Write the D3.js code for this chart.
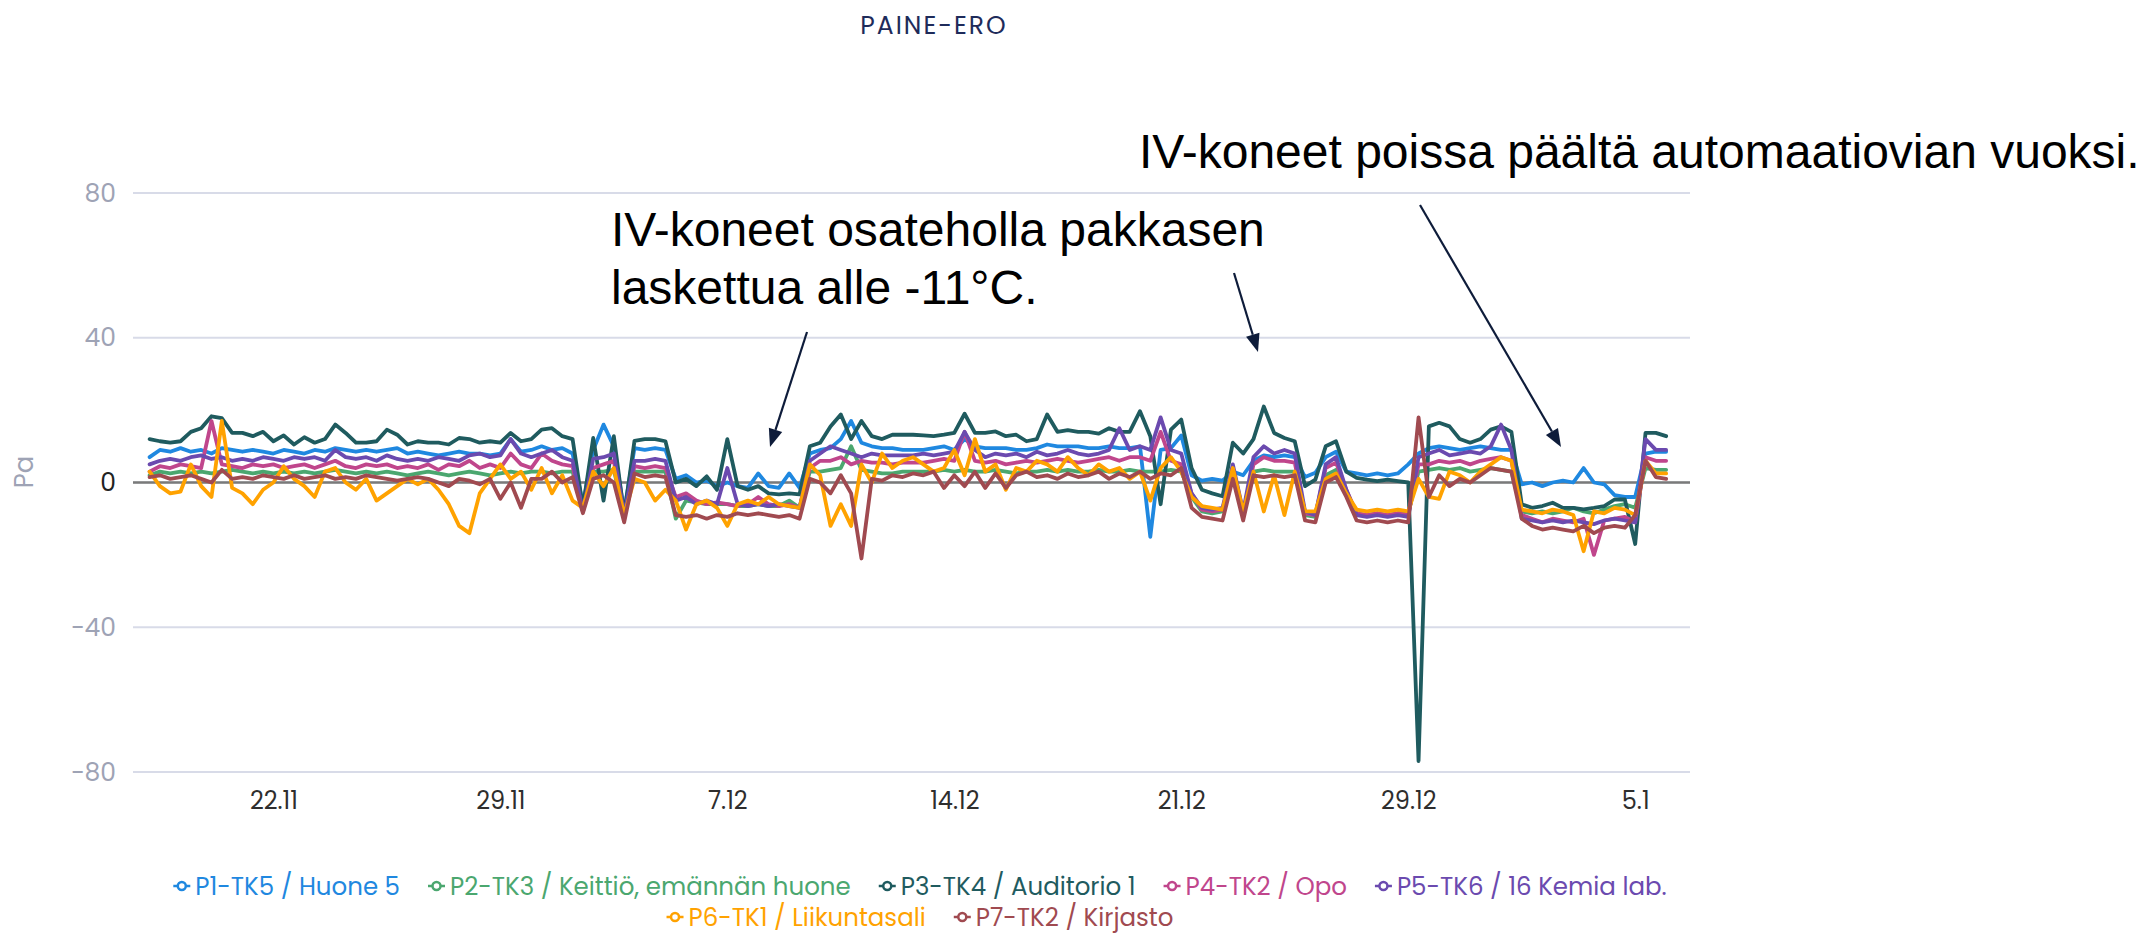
<!DOCTYPE html>
<html><head><meta charset="utf-8">
<script src="https://cdn.jsdelivr.net/npm/d3@7"></script>
<style>
body{margin:0;background:#fff;}
svg{display:block;}
</style></head><body>
<svg id="chart" width="2144" height="937"></svg>
<script>
// ---------------- data ----------------
const seriesNames = ["P1-TK5 / Huone 5","P2-TK3 / Keittiö, emännän huone","P3-TK4 / Auditorio 1","P4-TK2 / Opo","P5-TK6 / 16 Kemia lab.","P6-TK1 / Liikuntasali","P7-TK2 / Kirjasto"];
const seriesColors = ["#1f88e0","#4ba76f","#1f5b5f","#c0468c","#6b4aaf","#ffa200","#a04a50"];
const startTime = "2021-11-18T12:00:00";
const stepHours = 8;
const tickDates = ["2021-11-22T12:00:00","2021-11-29T20:00:00","2021-12-07T04:00:00","2021-12-14T12:00:00","2021-12-21T20:00:00","2021-12-29T04:00:00","2022-01-05T12:00:00"];
const tickLabels = ["22.11","29.11","7.12","14.12","21.12","29.12","5.1"];
const yTicks = [-80,-40,0,40,80];
const yDomain = [-80,80];
const xDomain = ["2021-11-17T23:08:00","2022-01-07T06:30:00"];

const p1 = [7,9,8.5,9.5,8.5, 9,8,9.5,9,8.5, 9,8.5,8,9,8.5, 8,9,8.5,9.5,9, 8.5,9,8.5,9,9.5, 8,8.5,8,7.5,8, 8.5,8,8,7.5,8, 12,8.5,9,
 10,9,9.5,8,-6, 9,16,10,-8,9.5, 9,9.5,9,1,2, 0,0.5,-1,0,-1, -1.5,2.5,-1,-1.5,2.5, -1.5,8,9,9.5,12, 17,11,10,9.5,9.5, 9,9,9,
 9.5,10,9,12,10, 9.5,9.5,9.5,9,9, 9.5,10.5,10,10,10, 9.5,9.5,10,9.5,9.5, 10,-15,9,9.5,13, 2,0.5,1,0.5,3, 2,6,7.5,7,7.5, 7,1.5,2.7,
 7,8.5,3,2.5,2, 2.5,2,2.5,5,8, 9.5,10,9.5,9,9.5, 10,9.5,9,9,-0.5, 0,-1,0,0.5,0, 4,0,-0.5,-3.5,-4, -4,8,8.5,8.5];
const p2 = [2,3,2.5,3,2.5, 3,2.5,3,3.5,3, 2.5,3,2.5,3,2.5, 3,2.5,3,3.5,3, 2.5,3,2.5,3,2.5, 2,2.5,3,2.5,2, 2.5,3,2.5,2,2.5, 3,2.5,3,
 3,2.5,3,3,-8, 3,3,3.5,-9,3, 3,3,3,-10,-5, -5.5,-6,-6,-6,-6.5, -6.5,-6,-6.5,-6.5,-5, -7,3,3,3.5,4, 10,3.5,3,2.5,2.5, 3,3,3,
 3,3.5,3,3.5,3, 3,3.5,3,2.5,3, 3,3.5,3,3.5,3, 3,3.5,3,3,3.5, 3,3,3,3.5,3, -4,-8,-8.5,-8,3, -9,3,3.5,3,3, 3,-9,-9.5,
 2,3.5,-3,-8.5,-9, -8.5,-9,-8.5,-8.5,3, 3.5,4,3.5,4,3, 3.5,4,3.5,3,-8, -8.5,-8,-8.5,-8,-7, -8,-8.5,-7.5,-6.5,-6, -7,4,3.5,3.5];
const p3 = [12,11.4,11,11.4,14, 15,18.3,17.8,13.7,13.7, 12.8,14,11.4,13,10.5, 12.5,11,12,16,13.7, 11,11,11.4,14.6,13.2, 10.5,11.4,11,11,10.5, 12.3,12,11,11.4,11, 13.7,11.4,12,
 14.6,15,12.8,12,-7, 12.3,-5,12.8,-9,11.5, 12,12,11.4,0,1, -1,1.7,-2,12,-1, -2,-1,-3,-3.3,-3, -3.3,10,11,15.5,18.8, 12,17,12.8,12,13.2, 13.2,13.2,13,
 12.8,13.2,13.7,19,13.7, 13.7,14.1,12.8,13.2,11.4, 12,18.8,14,14.5,14, 14,13.5,15,14,14, 19.7,12.8,-6,14.6,17.4, 4,-2,-3,-3.8,11, 8,12,21,13.7,12.3, 11.4,-1,0.8,
 10,11.4,3,1.3,0.8, 0.4,0.8,0.4,0,-77, 15.5,16.5,15.5,12,11, 12,14.6,15.5,14,-6, -7,-6.5,-5.6,-7,-7, -7.4,-7,-6.5,-4.7,-4.7, -17,13.7,13.7,12.8];
const p4 = [3,4.5,4,5,4.5, 4,17,5,4.5,4, 5,4.5,5,4,4.5, 5,4,5,6,4.5, 4,5,4.5,5,4, 4.5,4,5,3.5,5, 4.5,6,4,5,4, 8,5,4,
 8,6,5,4.5,-8, 4,5,6,-9,4.5, 4,4.5,4,-4,-3, -5,-6,-5.5,-6,-6.5, -6,-4,-6,-6.5,-6, -7,4,6,6,7, 5,6,5.5,5.5,5, 5.5,5.5,5.5,
 6,6.5,6,14,6, 5.5,6,5,5.5,6, 5.5,6,6.5,6,5.5, 6,6.5,7,6,7, 7,6,14,6,5, -3,-7.5,-8,-7.5,4, -8.5,5,7,6,6, 5.5,-8.5,-9,
 4,5.5,-2,-8.5,-9, -8.5,-9,-8.5,-9,5, 5,6,5.5,6,5, 6,6.5,7,6,-9, -10,-11,-10,-10.5,-11, -10,-20,-10.5,-10,-9.5, -11,7,6,6];
const p5 = [5,6,6.5,6,7, 7.5,6.5,7,6,6.5, 6,7,6.5,6,7, 6.5,7,6,9,7, 6.5,7,6,7.5,6.5, 6,6.5,6,7,6.5, 6,7.5,8,7,7.5, 12,8,7,
 8,9,7,6,-8, 6.5,7,8,-9,6, 6,6.5,6,-5,-4, -6,-5,-6,4,-6, -6.5,-6,-6.5,-6,-6.5, -7,6,8,10,9, 8,7,8,7.5,7.5, 7.5,7.5,8,
 7.5,8,8.5,14,9, 7,8,7.5,8,7, 8.5,7.5,8,9,8, 7.5,8,9,15,9, 10,9,18,9,8, -3,-7,-7.5,-7,5, -8,7,10,8,9, 8,-8,-9,
 5,7,-2,-9,-9.5, -9,-9.5,-9,-9.5,7, 8,9,7.5,8,8.5, 8,10,16,9,-10, -10.5,-11,-10.5,-11,-10.5, -11,-11.5,-10.5,-10,-10.5, -11,12,9,9];
const p6 = [3,-1,-3,-2.5,5, -1,-4,17,-1.5,-3, -6,-2,0,4.5,1, -1,-4,3,4,0, -2,1,-5,-3,-1, 1,-0.5,1,-2,-6, -12,-14,-3,1,5, 1,3,-2,
 4,-3,2,-5,-7, 3,-1,4,-9,1, 0,-5,-2,-5,-13, -6,-5,-7,-12,-6, -5,-6,-4,-6,-6.5, -7,5,2,-12,-6, -12,5,0,8,4, 6,7,5,
 3,4,9,2,12, 3,5,-2,4,3, 6,5,3,7,4, 2,5,3,4,1, 3,-5,4,7,3, -4,-6.5,-7,-7.5,4, -8,3,-8,2,-9, 3,-8,-8,
 1,2.5,-3,-7.5,-8, -7.5,-8,-7.5,-8,1, -4,-4.5,3,2,0, 3,5,7,6,-7.5, -8,-8.5,-7.5,-8,-9, -19,-8,-8.5,-7,-7.5, -9,6,2.5,2.5];
const p7 = [1.5,2,1,1.5,2, 1,0,3.5,1,1.5, 1,2,1.5,1,2, 1,1.5,2,1,1.5, 1,2,1.5,1,0.5, 1,1.5,1,0,-1, 1,0.5,-0.5,1,-4.5, 0,-7,1,
 1,3,0,1.5,-8.5, 1,2,0,-11,2.5, 1.5,2,1.5,-9,-9.5, -9,-10,-9,-9.5,-8.5, -9,-8.5,-9,-9.5,-9, -10,1,0,-3,2, -3,-21,1,0.5,2, 1.5,2.5,2,
 3,-1.5,2,-1,3, -1.5,2.5,-1.5,2,3, 1.5,2,1,2.5,1.5, 2,3,1,2.5,1.5, 3,1,2.5,2,4, -7,-9.5,-10,-10.5,1, -10.5,2,1.5,2,1.5, 2,-10.5,-11,
 0,1.5,-4,-10.5,-11, -10.5,-11,-10.5,-11,18, -4,2,-1,1,0, 2,4,3.5,3,-10, -12,-13,-12.5,-13,-13.5, -12,-14,-12.5,-12,-12.5, -9,6,1.5,1];
const seriesValues = [p1,p2,p3,p4,p5,p6,p7];
const legendRows = [[0,1,2,3,4],[5,6]];

// annotations (text + arrows, in pixels)
const annotations = [
  {lines:["IV-koneet poissa päältä automaatiovian vuoksi."], x:1139, y:168},
  {lines:["IV-koneet osateholla pakkasen","laskettua alle -11°C."], x:611, y:246}
];
const arrows = [
  {from:[807,332], to:[770,447]},
  {from:[1234,273], to:[1258,352]},
  {from:[1420,205], to:[1561,447]}
];

// ---------------- chart ----------------
const svg = d3.select("#chart");
const L = 133, R = 1690, T = 193, B = 772;
const FONT = "Poppins, 'Open Sans', sans-serif";
const parse = d3.isoParse;
const t0 = parse(startTime).getTime();
const x = d3.scaleTime().domain(xDomain.map(parse)).range([L, R]);
const y = d3.scaleLinear().domain(yDomain).range([B, T]);

// title
svg.append("text").attr("x", 934).attr("y", 25).attr("dy", "0.35em")
  .attr("text-anchor", "middle").attr("font-family", FONT)
  .attr("font-size", 25).attr("letter-spacing", 2).attr("fill", "#1e2b5a").text("PAINE-ERO");

// gridlines
svg.append("g").selectAll("line").data(yTicks).join("line")
  .attr("x1", L).attr("x2", R).attr("y1", d => y(d)).attr("y2", d => y(d))
  .attr("stroke", "#d8dbe8").attr("stroke-width", 2);
svg.append("line").attr("x1", L).attr("x2", R).attr("y1", y(0)).attr("y2", y(0))
  .attr("stroke", "#7a7a7a").attr("stroke-width", 2.5);

// y axis
const yAxis = svg.append("g").attr("transform", `translate(${L},0)`)
  .call(d3.axisLeft(y).tickValues(yTicks).tickSize(0).tickPadding(17));
yAxis.select(".domain").remove();
yAxis.selectAll("text").attr("font-family", FONT).attr("font-size", 25)
  .attr("fill", d => d === 0 ? "#222" : "#9ea3b5");

// x axis
const xAxis = svg.append("g").attr("transform", `translate(0,${B})`)
  .call(d3.axisBottom(x).tickValues(tickDates.map(parse)).tickSize(0).tickPadding(20)
    .tickFormat((d, i) => tickLabels[i]));
xAxis.select(".domain").remove();
xAxis.selectAll("text").attr("font-family", FONT).attr("font-size", 24)
  .attr("fill", "#2e2e2e");

// y title
svg.append("text").attr("transform", "translate(24,472) rotate(-90)").attr("dy", "0.35em")
  .attr("text-anchor", "middle").attr("font-family", FONT)
  .attr("font-size", 26).attr("fill", "#9ea3b5").text("Pa");

// series
const line = d3.line().x(d => x(d.t)).y(d => y(d.v));
seriesValues.forEach((vals, s) => {
  const pts = vals.map((v, i) => ({t: new Date(t0 + i * stepHours * 3600e3), v}));
  svg.append("path").datum(pts).attr("d", line).attr("fill", "none")
    .attr("stroke", seriesColors[s]).attr("stroke-width", 3.8)
    .attr("stroke-linejoin", "round").attr("stroke-linecap", "round");
});

// legend
const legendY = [886, 917];
const lg = svg.append("g");
legendRows.forEach((row, r) => {
  const rowG = lg.append("g");
  let cx = 0;
  row.forEach(s => {
    const g = rowG.append("g").attr("transform", `translate(${cx},0)`);
    g.append("line").attr("x1", 0).attr("x2", 17).attr("y1", 0).attr("y2", 0)
      .attr("stroke", seriesColors[s]).attr("stroke-width", 2.5);
    g.append("circle").attr("cx", 8.5).attr("cy", 0).attr("r", 4).attr("fill", "#fff")
      .attr("stroke", seriesColors[s]).attr("stroke-width", 2.5);
    const tx = g.append("text").attr("x", 22).attr("dy", "0.35em")
      .attr("font-family", FONT).attr("font-size", 24.5)
      .attr("fill", seriesColors[s]).text(seriesNames[s]);
    cx += 22 + tx.node().getComputedTextLength() + 28;
  });
  const w = cx - 28;
  rowG.attr("transform", `translate(${920 - w / 2},${legendY[r]})`);
});

// annotations
annotations.forEach(a => {
  a.lines.forEach((ln, i) => {
    svg.append("text").attr("x", a.x).attr("y", a.y + i * 58)
      .attr("font-family", "'Liberation Sans', Arial, sans-serif").attr("font-size", 48)
      .attr("fill", "#000").text(ln);
  });
});
arrows.forEach(a => {
  const [x1, y1] = a.from, [x2, y2] = a.to;
  const dx = x2 - x1, dy = y2 - y1, len = Math.hypot(dx, dy);
  const ux = dx / len, uy = dy / len, hl = 18, hw = 7;
  const bx = x2 - ux * hl, by = y2 - uy * hl;
  svg.append("line").attr("x1", x1).attr("y1", y1).attr("x2", bx).attr("y2", by)
    .attr("stroke", "#0e1c3a").attr("stroke-width", 2.2);
  svg.append("path").attr("d", `M${x2},${y2}L${bx - uy * hw},${by + ux * hw}L${bx + uy * hw},${by - ux * hw}Z`)
    .attr("fill", "#0e1c3a");
});
</script>
</body></html>
